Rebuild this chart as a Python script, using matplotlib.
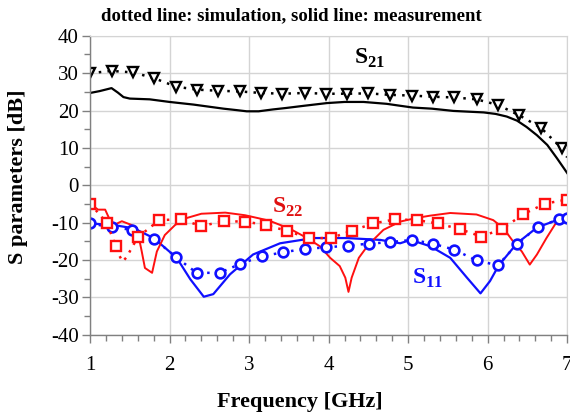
import matplotlib
matplotlib.use("Agg")
import matplotlib.pyplot as plt
from matplotlib.ticker import MultipleLocator

# ---- data ----
# S21 simulation (triangles, dotted)
f_s21_sim = [1.0, 1.27, 1.54, 1.80, 2.08, 2.34, 2.61, 2.89, 3.15, 3.42, 3.70, 3.97,
             4.23, 4.50, 4.77, 5.05, 5.31, 5.58, 5.86, 6.13, 6.40, 6.67, 6.93, 7.0]
s21_sim = [30.0, 30.6, 30.2, 28.7, 26.4, 25.6, 25.3, 25.1, 24.7, 24.5, 24.7, 24.5,
           24.5, 24.6, 24.2, 24.0, 23.7, 23.5, 23.0, 21.5, 18.7, 15.4, 9.9, 7.5]

# S21 measurement (solid)
f_s21_meas = [1.0, 1.12, 1.27, 1.35, 1.42, 1.5, 1.75, 2.0, 2.3, 2.68, 2.85, 2.97, 3.12,
              3.3, 3.47, 3.7, 3.98, 4.2, 4.44, 4.73, 4.86, 5.06, 5.3, 5.57, 5.95,
              6.1, 6.24, 6.37, 6.49, 6.62, 6.75, 6.87, 7.0]
s21_meas = [24.7, 25.2, 26.0, 24.8, 23.6, 23.2, 23.0, 22.3, 21.6, 20.5, 20.1, 19.8, 19.8,
            20.3, 20.7, 21.3, 22.0, 22.3, 22.3, 21.8, 21.4, 20.8, 20.5, 19.9, 19.5,
            19.1, 18.4, 17.3, 15.6, 13.4, 10.8, 7.3, 3.3]

# S11 simulation (circles, dotted)
f_s11_sim = [1.0, 1.27, 1.53, 1.81, 2.08, 2.34, 2.63, 2.89, 3.16, 3.43, 3.70, 3.97,
             4.25, 4.51, 4.77, 5.05, 5.31, 5.58, 5.86, 6.13, 6.37, 6.63, 6.90, 7.0]
s11_sim = [-10.2, -11.2, -11.9, -14.4, -19.2, -23.4, -23.4, -21.0, -19.0, -17.9, -17.0, -16.6,
           -16.1, -15.6, -15.2, -14.6, -15.6, -17.2, -20.1, -21.4, -15.7, -11.1, -9.1, -8.8]

# S11 measurement (solid)
f_s11_meas = [1.0, 1.29, 1.55, 1.80, 2.09, 2.26, 2.43, 2.55, 2.76, 3.05, 3.39, 3.81,
              4.23, 4.65, 4.90, 5.03, 5.28, 5.53, 5.74, 5.91, 6.03, 6.14, 6.37, 6.62,
              6.87, 7.0]
s11_meas = [-10.2, -10.6, -11.5, -14.1, -19.4, -25.1, -29.8, -29.1, -23.8, -18.5, -15.5, -14.1,
            -14.1, -14.6, -15.5, -14.6, -16.3, -19.4, -24.7, -28.9, -25.6, -21.4, -15.5, -11.3,
            -9.3, -8.0]

# S22 simulation (squares, dotted); extra points trace the dip near 1.4 GHz
f_s22_sim = [1.0, 1.21, 1.32, 1.36, 1.41, 1.46, 1.52, 1.60, 1.87, 2.14, 2.40, 2.68, 2.95,
             3.21, 3.48, 3.75, 4.03, 4.30, 4.56, 4.84, 5.11, 5.37, 5.65, 5.92, 6.18,
             6.45, 6.72, 7.0]
s22_sim = [-4.9, -10.0, -16.1, -18.5, -20.4, -19.2, -16.9, -13.9, -9.3, -9.1, -10.9, -9.6, -9.7,
           -10.6, -12.2, -14.1, -14.1, -12.1, -10.2, -9.1, -9.3, -10.2, -11.7, -13.7, -11.7,
           -7.7, -4.9, -3.8]
s22_marks = [0, 1, 2, 7, 8, 9, 10, 11, 12, 13, 14, 15, 16, 17, 18, 19, 20, 21, 22, 23,
             24, 25, 26, 27]

# S22 measurement (solid)
f_s22_meas = [1.0, 1.10, 1.19, 1.25, 1.27, 1.34, 1.40, 1.52, 1.59, 1.65, 1.69, 1.78,
              1.84, 1.94, 2.07, 2.19, 2.40, 2.70, 2.95, 3.16, 3.26, 3.52, 3.73, 3.89,
              4.02, 4.14, 4.21, 4.25, 4.29, 4.38, 4.50, 4.69, 4.90, 5.11, 5.28, 5.53,
              5.86, 6.07, 6.20, 6.32, 6.43, 6.53, 6.62, 6.74, 6.87, 7.0]
s22_meas = [-4.9, -6.5, -6.5, -9.3, -11.1, -10.2, -9.6, -10.6, -11.5, -17.7, -22.1, -23.4,
            -17.7, -13.3, -10.6, -8.9, -7.6, -7.3, -8.0, -9.0, -9.5, -11.7, -14.1, -16.3,
            -19.4, -21.6, -24.7, -28.5, -24.7, -19.4, -15.9, -11.9, -9.7, -8.7, -8.1, -7.4,
            -7.8, -9.3, -11.5, -15.0, -17.7, -21.2, -18.5, -14.1, -9.7, -7.6]

red = "#ff1010"
blue = "#1010ff"

plt.rcParams["font.family"] = "serif"
plt.rcParams["font.serif"] = ["Liberation Serif", "DejaVu Serif"]
plt.rcParams["axes.unicode_minus"] = False
plt.rcParams["mathtext.fontset"] = "custom"
plt.rcParams["mathtext.rm"] = "Liberation Serif"
plt.rcParams["mathtext.bf"] = "Liberation Serif:bold"

fig = plt.figure(figsize=(5.7, 4.16), dpi=100)
ax = fig.add_axes([0.158, 0.195, 0.837, 0.719])

dot = (0, (1, 2.5))
ax.plot(f_s21_meas, s21_meas, color="black", lw=1.6)
ax.plot(f_s11_meas, s11_meas, color=blue, lw=1.6)
ax.plot(f_s22_meas, s22_meas, color=red, lw=1.4)

ax.plot(f_s21_sim, s21_sim, color="black", lw=1.8, ls=dot,
        marker="v", ms=7, mfc="white", mec="black", mew=1.7, markevery=list(range(23)))
ax.plot(f_s11_sim, s11_sim, color=blue, lw=1.8, ls=dot,
        marker="o", ms=7, mfc="white", mec=blue, mew=1.9)
ax.plot(f_s22_sim, s22_sim, color=red, lw=1.8, ls=dot,
        marker="s", ms=7.5, mfc="white", mec=red, mew=1.7, markevery=s22_marks)

ax.set_xlim(1, 7)
ax.set_ylim(-40, 40)
ax.xaxis.set_major_locator(MultipleLocator(1))
ax.xaxis.set_minor_locator(MultipleLocator(0.2))
ax.yaxis.set_major_locator(MultipleLocator(10))
ax.yaxis.set_minor_locator(MultipleLocator(5))
ax.grid(True, which="major", color="#d4d4d4", lw=1.0)
ax.set_axisbelow(True)

for side in ["top", "right"]:
    ax.spines[side].set_color("#d4d4d4")
for side in ["left", "bottom"]:
    ax.spines[side].set_color("#808080")
    ax.spines[side].set_linewidth(1.0)

ax.tick_params(which="major", direction="out", length=6, width=1, color="#808080",
               labelsize=15)
ax.tick_params(axis="x", which="major", pad=9)
ax.tick_params(axis="y", which="major", pad=2)
ax.tick_params(which="minor", direction="out", length=4, width=1, color="#808080")

ax.text(4.52, 34.0, r"S$_{\mathbf{21}}$", fontsize=17, fontweight="bold",
        color="black", ha="center", va="center")
ax.text(3.48, -6.0, r"S$_{\mathbf{22}}$", fontsize=17, fontweight="bold",
        color="#e01010", ha="center", va="center")
ax.text(5.25, -25.0, r"S$_{\mathbf{11}}$", fontsize=17, fontweight="bold",
        color=blue, ha="center", va="center")

ax.set_xlabel("Frequency [GHz]", fontsize=16, fontweight="bold")
ax.set_ylabel("S parameters [dB]", fontsize=16, fontweight="bold")
ax.xaxis.set_label_coords(0.44, -0.19)
ax.yaxis.set_label_coords(-0.13, 0.53)

fig.text(0.512, 0.962, "dotted line: simulation, solid line: measurement",
         fontsize=13.5, fontweight="bold", ha="center", va="center")

fig.savefig("out.png", dpi=100)
